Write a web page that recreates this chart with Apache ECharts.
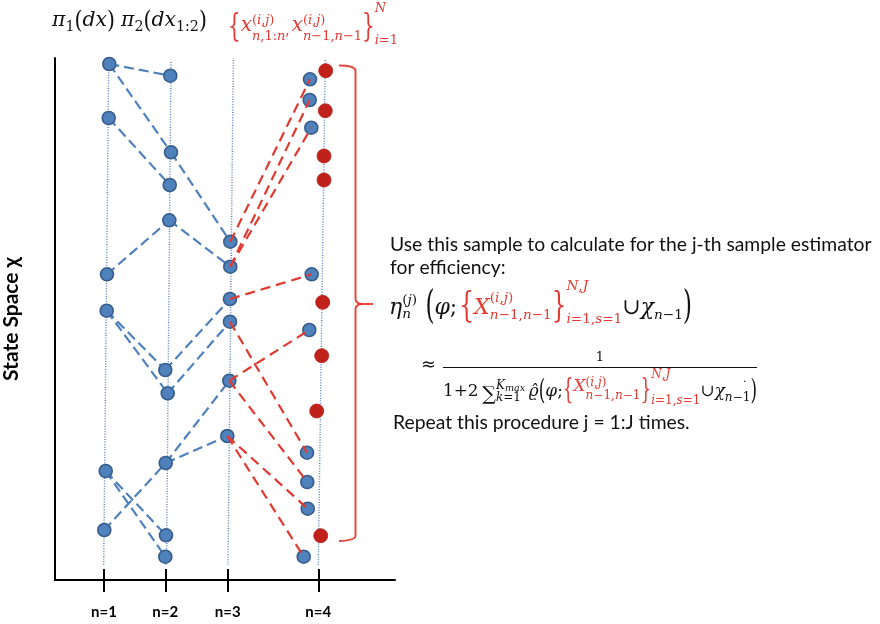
<!DOCTYPE html>
<html><head><meta charset="utf-8">
<script src="https://cdn.jsdelivr.net/npm/echarts@6/dist/echarts.min.js"></script>
<style>html,body{margin:0;padding:0;background:#fff}#c{width:880px;height:624px}</style>
</head><body><div id="c"></div>
<script>
// ---------- data (state-space units) ----------
const tickLabels = ['n=1', 'n=2', 'n=3', 'n=4'];
const tickPos = [49, 110.3, 172.7, 263.3];
const gen1 = [[54.3,516],[53.7,462],[52,305.7],[51.7,269.3],[50.7,109],[49.3,50]];
const gen2 = [[115.3,504.3],[116,427.7],[114.7,395],[114.3,359.7],[110.3,210],[112.7,186.7],[110.7,117],[111,44.7],[110.3,23.3]];
const gen3 = [[175.3,338.3],[175.3,313.3],[175,281],[175,258.3],[174.3,199.3],[172.3,144]];
const gen4 = [[255,500.7],[254.7,480],[256.3,452.3],[256.7,305.7],[254.3,250],[252,127.3],[252.3,98],[252.7,71.3],[248.7,23.3]];
const resampled = [[270.7,509.3],[270.3,469.3],[269,424],[269,400],[267.7,277.7],[266.7,224.3],[261.7,169],[265.7,44.3]];
const blueLinks12 = [[0,0],[0,1],[1,2],[2,3],[3,4],[3,5],[5,6],[4,7],[4,8]];
const blueLinks23 = [[1,0],[3,1],[4,2],[5,3],[6,4],[6,5]];
const redLinks34 = [[0,0],[1,1],[1,2],[2,3],[3,5],[4,4],[4,6],[5,7],[5,8]];
const guides = [[[53.7,518],[48.7,15]],[[116,518],[111.5,15]],[[178.3,520],[173,15]],[[270.3,520],[263.3,15]]];

// ---------- text layout helpers ----------
const MATH = 'DejaVu Serif';
const SANS = 'Lato';
const RED = '#E33B33';
const INK = '#111111';
const cv = document.createElement('canvas').getContext('2d');
function fnt(s, it, b, f) { return (it ? 'italic ' : '') + (b ? 'bold ' : '') + s.toFixed(2) + 'px "' + f + '"'; }
function mw(t, s, it, b, f) { cv.font = fnt(s, it, b, f); return cv.measureText(t).width; }
function midOff(s, it, b, f) {
  cv.font = fnt(s, it, b, f); cv.textBaseline = 'alphabetic';
  const m = cv.measureText('x');
  if (m.fontBoundingBoxAscent != null) return (m.fontBoundingBoxAscent - m.fontBoundingBoxDescent) / 2;
  return 0.35 * s;
}
const I = (t, s, y, c, sy) => ({ t, s, y, c, it: 1, sy });
const R = (t, s, y, c, sy) => ({ t, s, y, c, sy });
const ijRow = (s, y, c) => [R('(', s, y, c), I('i', s, y, c), R(',', s, y, c), I('j', s, y, c), R(')', s, y, c)];
const nnRow = (s, y, c) => [I('n', s, y, c), R('−1,', s, y, c), I('n', s, y, c), R('−1', s, y, c)];
function itemW(it, k) {
  if (it.gap != null) return it.gap * k;
  if (it.stack) return Math.max(...it.stack.map(r => rowW(r, k)));
  return mw(it.t, it.s * k, it.it, it.b, it.f || MATH);
}
function rowW(row, k) { let w = 0; for (const it of row) w += itemW(it, k); return w; }
function rowRender(row, x, k, out, defC) {
  for (const it of row) {
    if (it.gap != null) { x += it.gap * k; continue; }
    if (it.stack) { it.stack.forEach(r => rowRender(r, x, k, out, defC)); x += itemW(it, k); continue; }
    const s = it.s * k, f = it.f || MATH, sy = it.sy || 1;
    const font = fnt(s, it.it, it.b, f);
    out.push({
      type: 'text', silent: true, x: x, y: it.y, scaleY: sy, z: 100,
      style: { x: 0, y: -midOff(s, it.it, it.b, f), text: it.t, font: font,
        fontSize: s, fontFamily: f, fontStyle: it.it ? 'italic' : 'normal', fontWeight: it.b ? 'bold' : 'normal',
        fill: it.c || defC, align: 'left', verticalAlign: 'middle', textAlign: 'left', textVerticalAlign: 'middle' }
    });
    x += mw(it.t, s, it.it, it.b, f);
  }
  return x;
}
function place(row, x0, o) {
  let k = o.k || 1;
  if (o.w) k = o.w / rowW(row, 1);
  if (o.center) x0 = x0 - rowW(row, k) / 2;
  const out = [];
  rowRender(row, x0, k, out, o.c || INK);
  return { els: out, k };
}

// ---------- formulas ----------
const gfx = [];
const add = r => { gfx.push(...r.els); return r.k; };

add(place([I('π',20,28), R('1',14,32), R('(',20,30,null,1.15), I('d',20,28), I('x',20,28), R(')',20,30,null,1.15), {gap:6},
  I('π',20,28), R('2',14,32), R('(',20,30,null,1.15), I('d',20,28), I('x',20,28), R('1:2',14,32), R(')',20,30,null,1.15)], 52, { w: 155 }));

add(place([R('{',20,39,RED,1.55), I('x',20,33,RED),
  {stack:[ijRow(13,25,RED), [I('n',13,41,RED), R(',1:',13,41,RED), I('n',13,41,RED)]]},
  R(',',14,36,RED), {gap:2}, I('x',20,33,RED),
  {stack:[ijRow(13,25,RED), nnRow(13,41,RED)]},
  R('}',20,39,RED,1.55),
  {stack:[[I('N',13,13,RED)], [I('i',13,45,RED), R('=1',13,45,RED)]]}], 228, { w: 170 }));

add(place([I('η',21,316),
  {stack:[[R('(',13,305), I('j',13,305), R(')',13,305)], [I('n',13,319)]]}, {gap:8},
  R('(',22,321,null,1.7), I('φ',21,316), R(';',21,316), {gap:2},
  R('{',22,320,RED,1.5), I('X',21,316,RED),
  {stack:[ijRow(13,303,RED), nnRow(13,320,RED)]},
  R('}',22,320,RED,1.5),
  {stack:[[I('N',13,291,RED), R(',',13,291,RED), I('J',13,291,RED)], [I('i',13,324,RED), R('=1,',13,324,RED), I('s',13,324,RED), R('=1',13,324,RED)]]},
  R('∪',21,316), I('χ',21,316), I('n',13,320), R('−1',13,320), R(')',22,321,null,1.7)], 389, { w: 303 }));

add(place([R('≈',17,372)], 421, { w: 15 }));
add(place([R('1',13,362)], 600, { k: 1, center: true }));
add(place([R('1+2',14,398), {gap:3}, R('∑',16,401),
  {stack:[[I('K',10,390), I('max',8,392)], [I('k',10,402), R('=1',10,402)]]}, {gap:3},
  I('ϱ\u0302',14,398), R('(',14,402,null,1.7), I('φ',14,398), R(';',14,398),
  R('{',14,401,RED,1.6), I('X',14,393,RED),
  {stack:[ijRow(10,387,RED), nnRow(10,400,RED)]},
  R('}',14,401,RED,1.6),
  {stack:[[I('N',10,379,RED), R(',',10,379,RED), I('J',10,379,RED)], [I('i',10,405,RED), R('=1,',10,405,RED), I('s',10,405,RED), R('=1',10,405,RED)]]},
  R('∪',14,398), I('χ',14,398), I('n',10,402), R('−1',10,402), R(')',14,402,null,1.7)], 443, { w: 314 }));
add(place([R('.',11,383)], 743, { k: 1 }));
gfx.push({ type: 'line', silent: true, z: 100, shape: { x1: 443, y1: 367.5, x2: 757, y2: 367.5 }, style: { stroke: INK, lineWidth: 1.2 } });

const kS = add(place([{ t: 'Use this sample to calculate for the j-th sample estimator', s: 18, y: 252, f: SANS }], 390, { w: 482 }));
add(place([{ t: 'for efficiency:', s: 18, y: 275, f: SANS }], 390, { k: kS }));
add(place([{ t: 'Repeat this procedure j = 1:J times.', s: 18, y: 430, f: SANS }], 393, { k: kS }));

// red brace
const BR = { stroke: '#E8473E', lineWidth: 2, fill: null };
gfx.push(
  { type: 'bezierCurve', silent: true, z: 90, shape: { x1: 339, y1: 65.5, cpx1: 354, cpy1: 65.5, x2: 355.5, y2: 70 }, style: BR },
  { type: 'line', silent: true, z: 90, shape: { x1: 355.5, y1: 70, x2: 355.5, y2: 299 }, style: BR },
  { type: 'bezierCurve', silent: true, z: 90, shape: { x1: 355.5, y1: 299, cpx1: 356, cpy1: 304, x2: 363, y2: 304 }, style: BR },
  { type: 'line', silent: true, z: 90, shape: { x1: 363, y1: 304, x2: 373, y2: 304 }, style: BR },
  { type: 'bezierCurve', silent: true, z: 90, shape: { x1: 363, y1: 304, cpx1: 356, cpy1: 304, x2: 355.5, y2: 309 }, style: BR },
  { type: 'line', silent: true, z: 90, shape: { x1: 355.5, y1: 309, x2: 355.5, y2: 536 }, style: BR },
  { type: 'bezierCurve', silent: true, z: 90, shape: { x1: 355.5, y1: 536, cpx1: 355, cpy1: 540.5, x2: 339, y2: 541 }, style: BR }
);

// ---------- chart ----------
const seg = (a, b) => ({ coords: [a, b] });
const blueSeg = [...blueLinks12.map(([i, j]) => seg(gen1[i], gen2[j])), ...blueLinks23.map(([i, j]) => seg(gen2[i], gen3[j]))];
const redSeg = redLinks34.map(([i, j]) => seg(gen3[i], gen4[j]));
const guideSeg = guides.map(g => seg(g[0], g[1]));
const blueParticles = [...gen1, ...gen2, ...gen3, ...gen4];
const labelFor = v => { const i = tickPos.findIndex(p => Math.abs(p - v) < 0.5); return i >= 0 ? tickLabels[i] : ''; };

const chart = echarts.init(document.getElementById('c'), null, { renderer: 'canvas' });
chart.setOption({
  animation: false,
  grid: { left: 55, top: 58, width: 340, height: 522, containLabel: false },
  xAxis: [
    { type: 'value', min: 0, max: 340, position: 'bottom',
      axisLine: { show: true, onZero: false, lineStyle: { color: '#000', width: 2 } },
      splitLine: { show: false },
      axisTick: { show: true, customValues: tickPos, length: 12, lineStyle: { color: '#000', width: 2 } },
      axisLabel: { show: true, customValues: tickPos, formatter: labelFor, margin: 25, fontFamily: SANS, fontWeight: 'bold', fontSize: 15, color: '#000' } },
    { type: 'value', min: 0, max: 340, position: 'bottom',
      axisLine: { show: false }, splitLine: { show: false },
      axisTick: { show: true, inside: true, customValues: tickPos, length: 11, lineStyle: { color: '#000', width: 2 } },
      axisLabel: { show: false } }
  ],
  yAxis: { type: 'value', min: 0, max: 522,
    axisLine: { show: true, lineStyle: { color: '#000', width: 2 } },
    axisTick: { show: false }, axisLabel: { show: false }, splitLine: { show: false },
    name: 'State Space χ', nameLocation: 'middle', nameRotate: 90, nameGap: 33,
    nameTextStyle: { fontFamily: SANS, fontWeight: 'bold', fontSize: 21, color: '#000' } },
  series: [
    { type: 'lines', coordinateSystem: 'cartesian2d', z: 1, silent: true, data: guideSeg,
      lineStyle: { color: '#4F81BD', width: 1.4, type: [1, 1.6], opacity: 1, curveness: 0 } },
    { type: 'lines', coordinateSystem: 'cartesian2d', z: 2, silent: true, data: blueSeg,
      lineStyle: { color: '#4F81BD', width: 2.2, type: [10, 5], opacity: 1, curveness: 0 } },
    { type: 'scatter', z: 3, silent: true, data: blueParticles, symbolSize: 13,
      itemStyle: { color: '#4F81BD', borderColor: '#385D8A', borderWidth: 1.6, opacity: 1 } },
    { type: 'lines', coordinateSystem: 'cartesian2d', z: 4, silent: true, data: redSeg,
      lineStyle: { color: '#E03A30', width: 2.2, type: [10, 6], opacity: 1, curveness: 0 } },
    { type: 'scatter', z: 5, silent: true, data: resampled, symbolSize: 14,
      itemStyle: { color: '#C0211A', borderColor: '#B51E18', borderWidth: 0.8, opacity: 1 } }
  ],
  graphic: { elements: gfx }
});
</script></body></html>
